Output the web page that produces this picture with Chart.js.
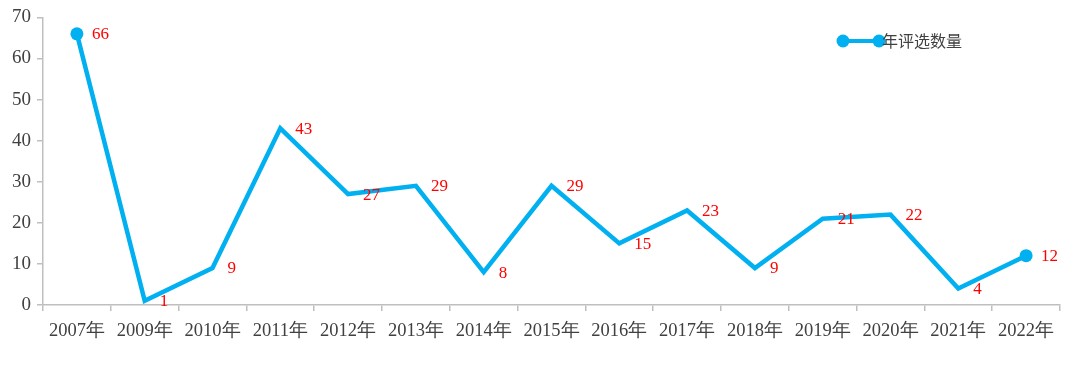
<!DOCTYPE html>
<html><head><meta charset="utf-8">
<script src="https://cdn.jsdelivr.net/npm/chart.js@4/dist/chart.umd.min.js"></script>
<style>html,body{margin:0;padding:0;background:#fff;}canvas{display:block;}</style>
</head><body>
<canvas id="c" width="1080" height="372"></canvas>
<script>
const categories = ["2007年","2009年","2010年","2011年","2012年","2013年","2014年","2015年","2016年","2017年","2018年","2019年","2020年","2021年","2022年"];
const counts = [66,1,9,43,27,29,8,29,15,23,9,21,22,4,12];
const seriesName = "年评选数量";
const yTicks = [0,10,20,30,40,50,60,70];

const LINE = "#00B0F0";
const AXIS = "#BFBFBF";

const labelPlugin = {
  id: 'labels',
  afterDatasetsDraw(chart) {
    const ctx = chart.ctx;
    const meta = chart.getDatasetMeta(0);
    ctx.save();
    ctx.fillStyle = "#FF0000";
    ctx.font = "17px 'Liberation Serif'";
    ctx.textBaseline = "middle";
    ctx.textAlign = "left";
    meta.data.forEach((pt, i) => {
      ctx.fillText(String(counts[i]), pt.x + 15, pt.y + 1);
    });
    // legend
    const lx = 843, rx = 879, ly = 41;
    ctx.strokeStyle = LINE; ctx.lineWidth = 4;
    ctx.beginPath(); ctx.moveTo(lx, ly); ctx.lineTo(rx, ly); ctx.stroke();
    ctx.fillStyle = LINE;
    [lx, rx].forEach(x => { ctx.beginPath(); ctx.arc(x, ly, 6.5, 0, Math.PI*2); ctx.fill(); });
    ctx.fillStyle = "#404040";
    ctx.font = "16px 'Noto Sans CJK SC'";
    ctx.fillText(seriesName, 882, ly);
    ctx.restore();
  }
};

new Chart(document.getElementById('c'), {
  type: 'line',
  data: {
    labels: categories,
    datasets: [{
      label: seriesName,
      data: counts,
      borderColor: LINE,
      backgroundColor: LINE,
      borderWidth: 4.5,
      tension: 0,
      pointRadius: ctx => (ctx.dataIndex === 0 || ctx.dataIndex === counts.length - 1) ? 6.5 : 0,
      pointBorderWidth: 0,
      pointHoverRadius: 0
    }]
  },
  options: {
    responsive: false,
    animation: false,
    layout: { padding: { top: 16, right: 20, left: 0, bottom: 0 } },
    plugins: { legend: { display: false }, tooltip: { enabled: false } },
    scales: {
      x: {
        offset: true,
        afterFit(s) { s.height = 67; },
        grid: { offset: true, drawOnChartArea: false, drawTicks: true, tickLength: 6, color: AXIS, lineWidth: 1.5 },
        border: { color: AXIS, width: 1.5 },
        ticks: { color: "#404040", font: { family: "'Liberation Serif'", size: 18.5 }, padding: 9, maxRotation: 0, autoSkip: false }
      },
      y: {
        min: 0, max: 70,
        afterFit(s) { s.width = 43; },
        afterBuildTicks(s) { s.ticks = yTicks.map(v => ({ value: v })); },
        grid: { drawOnChartArea: false, drawTicks: true, tickLength: 6, color: AXIS, lineWidth: 1.5 },
        border: { color: AXIS, width: 1.5 },
        ticks: { color: "#404040", font: { family: "'Liberation Serif'", size: 19 }, padding: 6 }
      }
    }
  },
  plugins: [labelPlugin]
});
</script>
</body></html>
